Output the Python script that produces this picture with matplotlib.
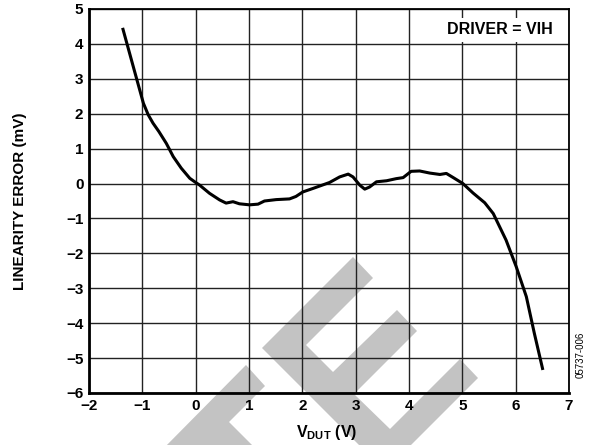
import matplotlib
matplotlib.use('Agg')
import matplotlib.pyplot as plt
from matplotlib.patches import Polygon

plt.rcParams['font.family'] = ['Liberation Sans', 'DejaVu Sans']
plt.rcParams['mathtext.fontset'] = 'custom'
plt.rcParams['mathtext.bf'] = 'Liberation Sans:bold'
plt.rcParams['mathtext.rm'] = 'Liberation Sans'

# linearity error vs V_DUT
v_dut = [-1.37, -1.17, -0.98, -0.89, -0.80, -0.69, -0.55, -0.42, -0.27, -0.11,
         0.00, 0.07, 0.26, 0.45, 0.57, 0.70, 0.82, 1.01, 1.17, 1.29,
         1.51, 1.76, 1.88, 2.01, 2.20, 2.51, 2.70, 2.86, 2.95, 3.08,
         3.17, 3.26, 3.39, 3.58, 3.76, 3.89, 4.04, 4.20, 4.39, 4.58,
         4.70, 4.83, 5.01, 5.20, 5.42, 5.58, 5.70, 5.82, 6.01, 6.20,
         6.35, 6.51]
lin_err = [4.46, 3.35, 2.30, 1.97, 1.73, 1.49, 1.15, 0.77, 0.44, 0.15,
           0.03, -0.04, -0.28, -0.47, -0.56, -0.52, -0.58, -0.61, -0.59, -0.50,
           -0.46, -0.44, -0.37, -0.24, -0.14, 0.03, 0.19, 0.27, 0.19, -0.05,
           -0.16, -0.10, 0.05, 0.08, 0.14, 0.17, 0.35, 0.36, 0.30, 0.26,
           0.29, 0.17, 0.00, -0.27, -0.55, -0.86, -1.24, -1.62, -2.38, -3.24,
           -4.29, -5.34]

x_ticks = list(range(-2, 8))
y_ticks = list(range(-6, 6))

W, H = 590, 445
fig = plt.figure(figsize=(W / 100, H / 100), dpi=100)
ax = fig.add_axes([89 / W, 1 - 393 / H, (569 - 89) / W, (393 - 9) / H])
ax.set_facecolor('none')

# grey watermark pieces (pixel coords of the figure)
wm_grey = '#c3c3c3'
piece_a = [(160, 452), (246, 365), (265, 386), (229, 422), (259, 452)]
piece_e = [(262, 348), (353, 257), (373, 278), (306, 345), (333, 372),
           (397, 310), (417, 331), (354, 394), (390, 429), (460, 359),
           (478, 378), (385, 471)]
for pts in (piece_a, piece_e):
    fpts = [(x / W, 1 - y / H) for x, y in pts]
    fig.add_artist(Polygon(fpts, closed=True, facecolor=wm_grey,
                           edgecolor='none', transform=fig.transFigure,
                           zorder=-5))

ax.plot(v_dut, lin_err, color='black', lw=2.2, solid_capstyle='butt', zorder=3)

ax.set_xlim(-2, 7)
ax.set_ylim(-6, 5)
ax.set_xticks(x_ticks)
ax.set_yticks(y_ticks)
ax.grid(True, color='#222222', lw=1.0)
ax.set_axisbelow(True)
ax.tick_params(length=0, pad=4, labelsize=11)
for lab in ax.get_xticklabels() + ax.get_yticklabels():
    lab.set_fontweight('bold')
for s in ax.spines.values():
    s.set_linewidth(1.3)
ax.spines['bottom'].set_linewidth(2.0)
ax.spines['left'].set_linewidth(2.0)

fig.text(327 / W, 1 - 433 / H, r'$\mathbf{V_{DUT}}$ (V)', ha='center',
         va='center', fontsize=11.5, fontweight='bold')
fig.text(20 / W, 1 - 201 / H, 'LINEARITY ERROR (mV)', rotation=90,
         ha='center', va='center', fontsize=11, fontweight='bold')

ax.text(6.70, 4.40, 'DRIVER = VIH', ha='right', va='center', fontsize=11.5,
        fontweight='bold', zorder=4,
        bbox=dict(facecolor='white', edgecolor='none', pad=3.5))

fig.text(581 / W, 1 - 355 / H, '05737-006', rotation=90, ha='center',
         va='center', fontsize=7)

fig.savefig('out.png', dpi=100)
